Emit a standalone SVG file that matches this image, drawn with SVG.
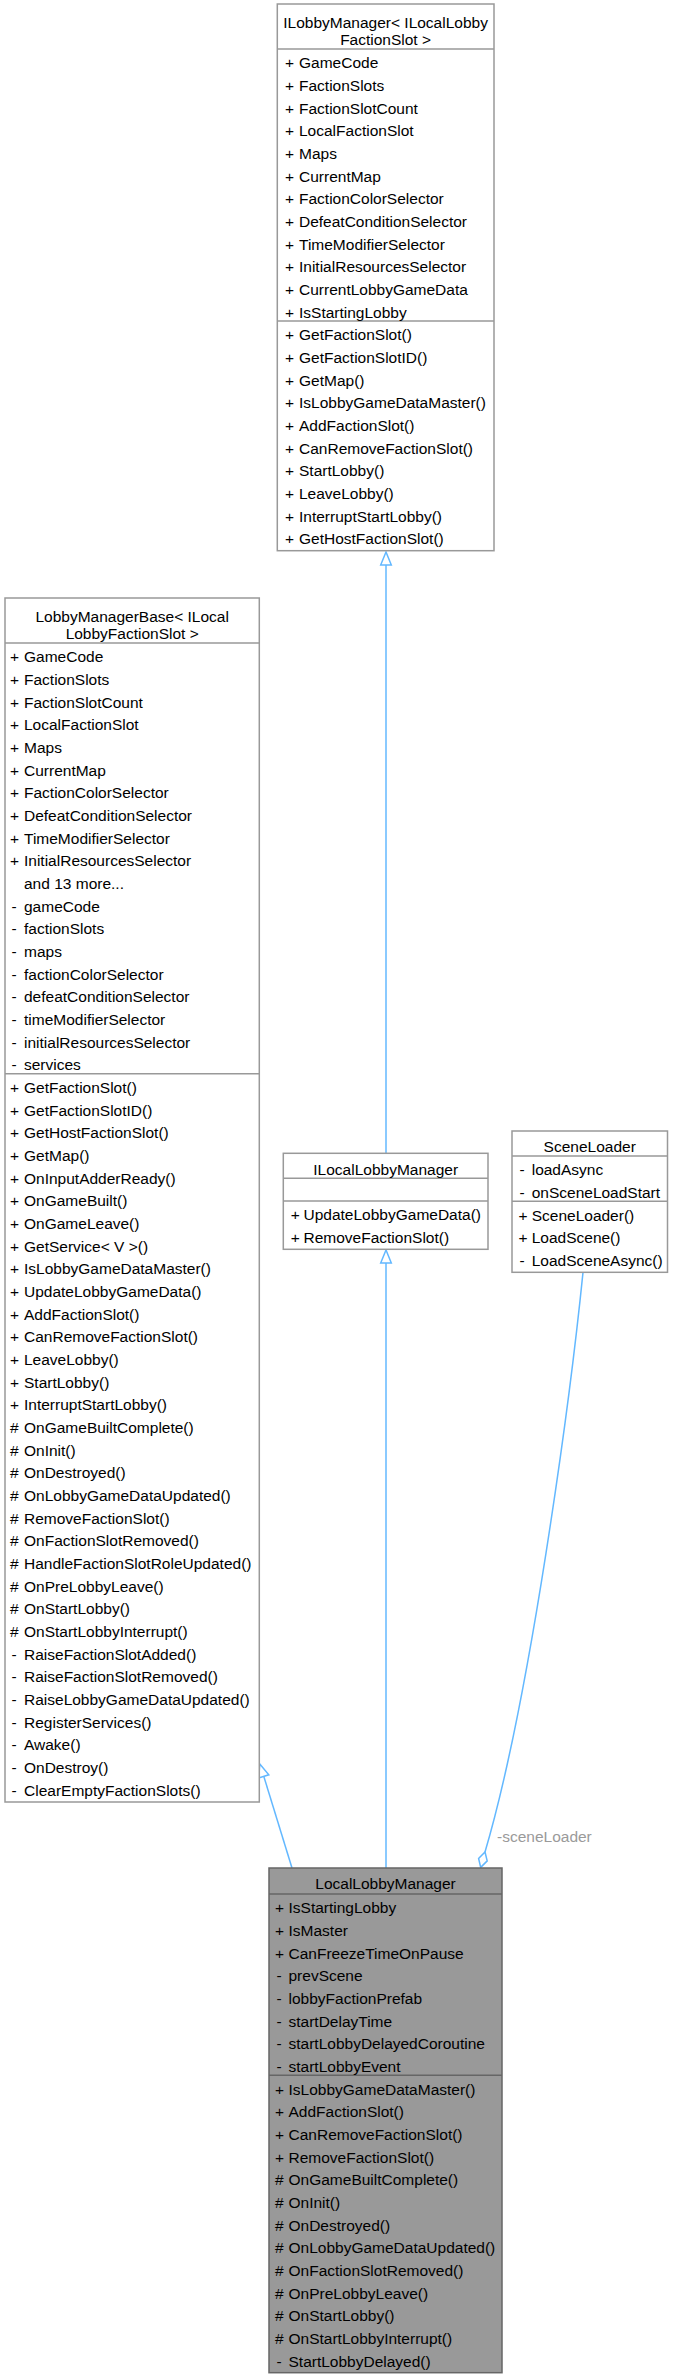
<svg xmlns="http://www.w3.org/2000/svg" width="673" height="2378" viewBox="0 0 673 2378">
<style>
.n{fill:#fff;stroke:#999;stroke-width:1.5}
.h{fill:#999;stroke:#666;stroke-width:1.5}
.s{stroke:#999;stroke-width:1.5}
.sh{stroke:#666;stroke-width:1.5}
text{font-family:"Liberation Sans",Arial,sans-serif;font-size:15.5px;fill:#000}
.t{text-anchor:middle}
.e{fill:none;stroke:#63b8ff;stroke-width:1.5}
.a{fill:#fff;stroke:#63b8ff;stroke-width:1.5}
.lbl{fill:#9a9a9a}
</style>
<rect width="673" height="2378" fill="#fff"/>
<g id="connectors">
<path class="e" d="M386,1153.3V565"/>
<polygon class="a" points="386,552 380.7,565 391.3,565"/>
<path class="e" d="M386,1868V1263"/>
<polygon class="a" points="386,1250 380.7,1263 391.3,1263"/>
<path class="e" d="M292,1868L263.8,1776.4"/>
<polygon class="a" points="259.8,1764 268.8,1774.8 258.7,1778"/>
<path class="e" d="M583,1272.3C570,1400 530,1700 485,1852"/>
<polygon class="a" points="485,1852 487.2,1860.9 480.7,1867.4 478.6,1858.5"/>
<text class="lbl" x="497" y="1842">-sceneLoader</text>
</g>
<g id="ILobbyManager">
<rect class="n" x="277.3" y="4" width="216.7" height="546.7"/>
<line class="s" x1="277.3" y1="49" x2="494" y2="49"/>
<line class="s" x1="277.3" y1="321" x2="494" y2="321"/>
<text class="t" x="385.6" y="27.8">ILobbyManager&lt; ILocalLobby</text>
<text class="t" x="385.6" y="44.5">FactionSlot &gt;</text>
<text x="285" y="68.3">+<tspan x="299">GameCode</tspan></text>
<text x="285" y="91">+<tspan x="299">FactionSlots</tspan></text>
<text x="285" y="113.6">+<tspan x="299">FactionSlotCount</tspan></text>
<text x="285" y="136.3">+<tspan x="299">LocalFactionSlot</tspan></text>
<text x="285" y="159">+<tspan x="299">Maps</tspan></text>
<text x="285" y="181.7">+<tspan x="299">CurrentMap</tspan></text>
<text x="285" y="204.3">+<tspan x="299">FactionColorSelector</tspan></text>
<text x="285" y="227">+<tspan x="299">DefeatConditionSelector</tspan></text>
<text x="285" y="249.7">+<tspan x="299">TimeModifierSelector</tspan></text>
<text x="285" y="272.3">+<tspan x="299">InitialResourcesSelector</tspan></text>
<text x="285" y="295">+<tspan x="299">CurrentLobbyGameData</tspan></text>
<text x="285" y="317.7">+<tspan x="299">IsStartingLobby</tspan></text>
<text x="285" y="340.3">+<tspan x="299">GetFactionSlot()</tspan></text>
<text x="285" y="363">+<tspan x="299">GetFactionSlotID()</tspan></text>
<text x="285" y="385.6">+<tspan x="299">GetMap()</tspan></text>
<text x="285" y="408.3">+<tspan x="299">IsLobbyGameDataMaster()</tspan></text>
<text x="285" y="431">+<tspan x="299">AddFactionSlot()</tspan></text>
<text x="285" y="453.7">+<tspan x="299">CanRemoveFactionSlot()</tspan></text>
<text x="285" y="476.3">+<tspan x="299">StartLobby()</tspan></text>
<text x="285" y="499">+<tspan x="299">LeaveLobby()</tspan></text>
<text x="285" y="521.7">+<tspan x="299">InterruptStartLobby()</tspan></text>
<text x="285" y="544.3">+<tspan x="299">GetHostFactionSlot()</tspan></text>
</g>
<g id="LobbyManagerBase">
<rect class="n" x="5" y="598" width="254.3" height="1204"/>
<line class="s" x1="5" y1="643" x2="259.3" y2="643"/>
<line class="s" x1="5" y1="1073.7" x2="259.3" y2="1073.7"/>
<text class="t" x="132.2" y="621.8">LobbyManagerBase&lt; ILocal</text>
<text class="t" x="132.2" y="638.5">LobbyFactionSlot &gt;</text>
<text x="10" y="662.3">+<tspan x="24">GameCode</tspan></text>
<text x="10" y="685">+<tspan x="24">FactionSlots</tspan></text>
<text x="10" y="707.6">+<tspan x="24">FactionSlotCount</tspan></text>
<text x="10" y="730.3">+<tspan x="24">LocalFactionSlot</tspan></text>
<text x="10" y="753">+<tspan x="24">Maps</tspan></text>
<text x="10" y="775.7">+<tspan x="24">CurrentMap</tspan></text>
<text x="10" y="798.3">+<tspan x="24">FactionColorSelector</tspan></text>
<text x="10" y="821">+<tspan x="24">DefeatConditionSelector</tspan></text>
<text x="10" y="843.7">+<tspan x="24">TimeModifierSelector</tspan></text>
<text x="10" y="866.3">+<tspan x="24">InitialResourcesSelector</tspan></text>
<text x="24" y="889">and 13 more...</text>
<text x="11.5" y="911.7">-<tspan x="24">gameCode</tspan></text>
<text x="11.5" y="934.3">-<tspan x="24">factionSlots</tspan></text>
<text x="11.5" y="957">-<tspan x="24">maps</tspan></text>
<text x="11.5" y="979.7">-<tspan x="24">factionColorSelector</tspan></text>
<text x="11.5" y="1002.4">-<tspan x="24">defeatConditionSelector</tspan></text>
<text x="11.5" y="1025">-<tspan x="24">timeModifierSelector</tspan></text>
<text x="11.5" y="1047.7">-<tspan x="24">initialResourcesSelector</tspan></text>
<text x="11.5" y="1070.4">-<tspan x="24">services</tspan></text>
<text x="10" y="1093">+<tspan x="24">GetFactionSlot()</tspan></text>
<text x="10" y="1115.7">+<tspan x="24">GetFactionSlotID()</tspan></text>
<text x="10" y="1138.3">+<tspan x="24">GetHostFactionSlot()</tspan></text>
<text x="10" y="1161">+<tspan x="24">GetMap()</tspan></text>
<text x="10" y="1183.7">+<tspan x="24">OnInputAdderReady()</tspan></text>
<text x="10" y="1206.4">+<tspan x="24">OnGameBuilt()</tspan></text>
<text x="10" y="1229">+<tspan x="24">OnGameLeave()</tspan></text>
<text x="10" y="1251.7">+<tspan x="24">GetService&lt; V &gt;()</tspan></text>
<text x="10" y="1274.4">+<tspan x="24">IsLobbyGameDataMaster()</tspan></text>
<text x="10" y="1297">+<tspan x="24">UpdateLobbyGameData()</tspan></text>
<text x="10" y="1319.7">+<tspan x="24">AddFactionSlot()</tspan></text>
<text x="10" y="1342.4">+<tspan x="24">CanRemoveFactionSlot()</tspan></text>
<text x="10" y="1365">+<tspan x="24">LeaveLobby()</tspan></text>
<text x="10" y="1387.7">+<tspan x="24">StartLobby()</tspan></text>
<text x="10" y="1410.4">+<tspan x="24">InterruptStartLobby()</tspan></text>
<text x="10" y="1433.1">#<tspan x="24">OnGameBuiltComplete()</tspan></text>
<text x="10" y="1455.7">#<tspan x="24">OnInit()</tspan></text>
<text x="10" y="1478.4">#<tspan x="24">OnDestroyed()</tspan></text>
<text x="10" y="1501.1">#<tspan x="24">OnLobbyGameDataUpdated()</tspan></text>
<text x="10" y="1523.7">#<tspan x="24">RemoveFactionSlot()</tspan></text>
<text x="10" y="1546.4">#<tspan x="24">OnFactionSlotRemoved()</tspan></text>
<text x="10" y="1569.1">#<tspan x="24">HandleFactionSlotRoleUpdated()</tspan></text>
<text x="10" y="1591.7">#<tspan x="24">OnPreLobbyLeave()</tspan></text>
<text x="10" y="1614.4">#<tspan x="24">OnStartLobby()</tspan></text>
<text x="10" y="1637.1">#<tspan x="24">OnStartLobbyInterrupt()</tspan></text>
<text x="11.5" y="1659.8">-<tspan x="24">RaiseFactionSlotAdded()</tspan></text>
<text x="11.5" y="1682.4">-<tspan x="24">RaiseFactionSlotRemoved()</tspan></text>
<text x="11.5" y="1705.1">-<tspan x="24">RaiseLobbyGameDataUpdated()</tspan></text>
<text x="11.5" y="1727.8">-<tspan x="24">RegisterServices()</tspan></text>
<text x="11.5" y="1750.4">-<tspan x="24">Awake()</tspan></text>
<text x="11.5" y="1773.1">-<tspan x="24">OnDestroy()</tspan></text>
<text x="11.5" y="1795.8">-<tspan x="24">ClearEmptyFactionSlots()</tspan></text>
</g>
<g id="ILocalLobbyManager">
<rect class="n" x="283.3" y="1153.3" width="204.7" height="96"/>
<line class="s" x1="283.3" y1="1178.3" x2="488" y2="1178.3"/>
<line class="s" x1="283.3" y1="1201" x2="488" y2="1201"/>
<text class="t" x="385.7" y="1174.6">ILocalLobbyManager</text>
<text x="290.7" y="1220.3">+<tspan x="303.5">UpdateLobbyGameData()</tspan></text>
<text x="290.7" y="1243">+<tspan x="303.5">RemoveFactionSlot()</tspan></text>
</g>
<g id="SceneLoader">
<rect class="n" x="512" y="1131" width="155.5" height="141.3"/>
<line class="s" x1="512" y1="1156" x2="667.5" y2="1156"/>
<line class="s" x1="512" y1="1201.3" x2="667.5" y2="1201.3"/>
<text class="t" x="589.7" y="1152.3">SceneLoader</text>
<text x="519.5" y="1175.3">-<tspan x="531.7">loadAsync</tspan></text>
<text x="519.5" y="1198">-<tspan x="531.7">onSceneLoadStart</tspan></text>
<text x="518.5" y="1220.6">+<tspan x="531.7">SceneLoader()</tspan></text>
<text x="518.5" y="1243.3">+<tspan x="531.7">LoadScene()</tspan></text>
<text x="519.5" y="1266">-<tspan x="531.7">LoadSceneAsync()</tspan></text>
</g>
<g id="LocalLobbyManager">
<rect class="h" x="269" y="1868" width="233" height="504.7"/>
<line class="sh" x1="269" y1="1894" x2="502" y2="1894"/>
<line class="sh" x1="269" y1="2075.3" x2="502" y2="2075.3"/>
<text class="t" x="385.5" y="1889.3">LocalLobbyManager</text>
<text x="275" y="1913.3">+<tspan x="288.5">IsStartingLobby</tspan></text>
<text x="275" y="1936">+<tspan x="288.5">IsMaster</tspan></text>
<text x="275" y="1958.6">+<tspan x="288.5">CanFreezeTimeOnPause</tspan></text>
<text x="276.5" y="1981.3">-<tspan x="288.5">prevScene</tspan></text>
<text x="276.5" y="2004">-<tspan x="288.5">lobbyFactionPrefab</tspan></text>
<text x="276.5" y="2026.7">-<tspan x="288.5">startDelayTime</tspan></text>
<text x="276.5" y="2049.3">-<tspan x="288.5">startLobbyDelayedCoroutine</tspan></text>
<text x="276.5" y="2072">-<tspan x="288.5">startLobbyEvent</tspan></text>
<text x="275" y="2094.6">+<tspan x="288.5">IsLobbyGameDataMaster()</tspan></text>
<text x="275" y="2117.3">+<tspan x="288.5">AddFactionSlot()</tspan></text>
<text x="275" y="2140">+<tspan x="288.5">CanRemoveFactionSlot()</tspan></text>
<text x="275" y="2162.6">+<tspan x="288.5">RemoveFactionSlot()</tspan></text>
<text x="275" y="2185.3">#<tspan x="288.5">OnGameBuiltComplete()</tspan></text>
<text x="275" y="2208">#<tspan x="288.5">OnInit()</tspan></text>
<text x="275" y="2230.7">#<tspan x="288.5">OnDestroyed()</tspan></text>
<text x="275" y="2253.3">#<tspan x="288.5">OnLobbyGameDataUpdated()</tspan></text>
<text x="275" y="2276">#<tspan x="288.5">OnFactionSlotRemoved()</tspan></text>
<text x="275" y="2298.7">#<tspan x="288.5">OnPreLobbyLeave()</tspan></text>
<text x="275" y="2321.3">#<tspan x="288.5">OnStartLobby()</tspan></text>
<text x="275" y="2344">#<tspan x="288.5">OnStartLobbyInterrupt()</tspan></text>
<text x="276.5" y="2366.7">-<tspan x="288.5">StartLobbyDelayed()</tspan></text>
</g>
</svg>
